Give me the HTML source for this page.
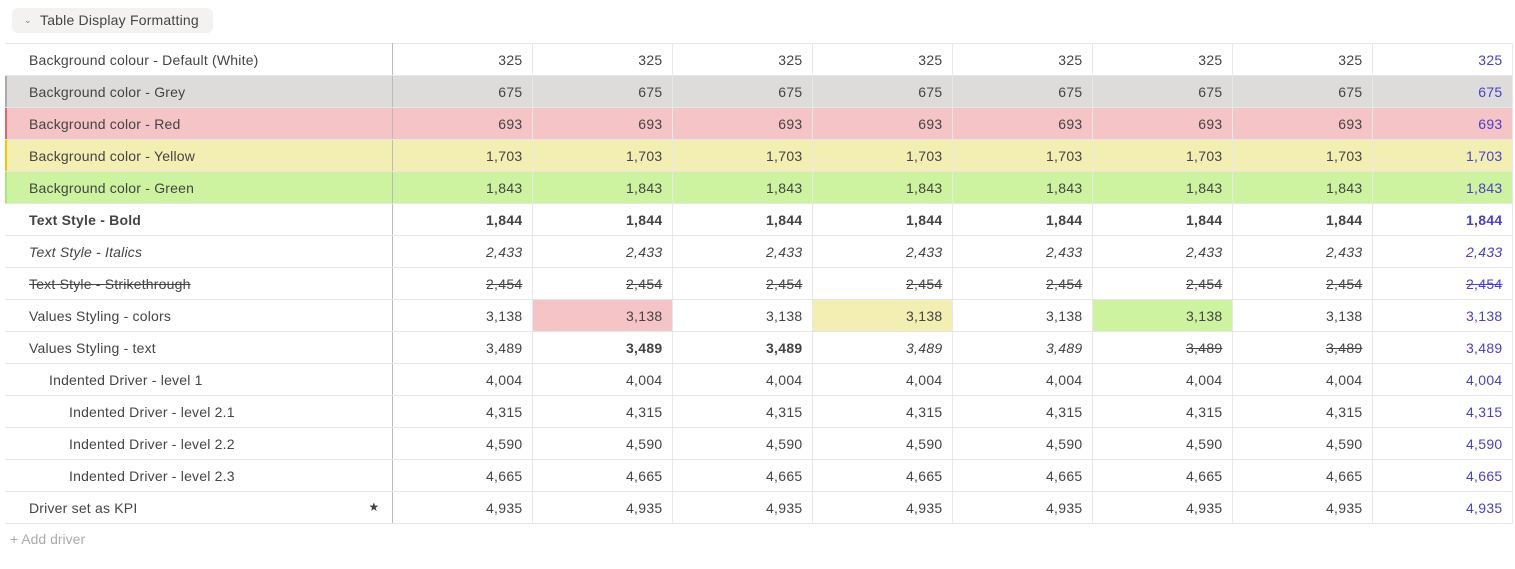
<!DOCTYPE html>
<html><head><meta charset="utf-8"><style>
body{margin:0;width:1515px;height:569px;background:#fff;font-family:"Liberation Sans",sans-serif;color:#444;font-size:14px;position:relative;overflow:hidden}
.btn{position:absolute;left:12px;top:8px;width:201px;height:25px;background:#f3f2f1;border-radius:6px;font-size:14px;line-height:25px;color:#444}
.btn span.c{position:absolute;left:12px;top:0;font-size:9px;color:#777}
.btn span.t{position:absolute;left:28px;letter-spacing:0.2px}
table{position:absolute;left:5px;top:43px;border-collapse:collapse;table-layout:fixed;width:1507px}
td{height:32px;padding:0 9px 0 0;border-top:1px solid #e6e6e6;border-bottom:1px solid #e6e6e6;border-right:1px solid #e8e8e8;text-align:right;white-space:nowrap;font-size:14px;box-sizing:border-box;letter-spacing:0.3px}
td.l{text-align:left;padding-left:24px;border-right:1px solid #bbb;position:relative;letter-spacing:0.2px}
td.last{color:#4a40c0;border-left:1px solid #bbb}
tr.g td{background:#dddcdb}tr.r td{background:#f5c4c7}tr.y td{background:#f3eeb2}tr.gr td{background:#cdf3a1}
tr.g td.l{box-shadow:inset 2px 0 #aaa}tr.r td.l{box-shadow:inset 2px 0 #e5636b}tr.y td.l{box-shadow:inset 2px 0 #f0c400}tr.gr td.l{box-shadow:inset 2px 0 #a8e87a}
tr.b td{font-weight:bold}tr.i td{font-style:italic}tr.s td{text-decoration:line-through}
.b{font-weight:bold}.i{font-style:italic}.s{text-decoration:line-through}
.cr{background:#f5c4c7}.cy{background:#f3eeb2}.cg{background:#cdf3a1}
.add{position:absolute;left:10px;top:531px;color:#aaa;font-size:14px}
</style></head><body>
<div class="btn"><span class="c">&#8964;</span><span class="t">Table Display Formatting</span></div>
<table>
<colgroup><col style="width:387px"><col style="width:140px"><col style="width:140px"><col style="width:140px"><col style="width:140px"><col style="width:140px"><col style="width:140px"><col style="width:140px"><col style="width:140px"></colgroup>
<tr><td class="l">Background colour - Default (White)</td><td>325</td><td>325</td><td>325</td><td>325</td><td>325</td><td>325</td><td>325</td><td class="last">325</td></tr>
<tr class="g"><td class="l">Background color - Grey</td><td>675</td><td>675</td><td>675</td><td>675</td><td>675</td><td>675</td><td>675</td><td class="last">675</td></tr>
<tr class="r"><td class="l">Background color - Red</td><td>693</td><td>693</td><td>693</td><td>693</td><td>693</td><td>693</td><td>693</td><td class="last">693</td></tr>
<tr class="y"><td class="l">Background color - Yellow</td><td>1,703</td><td>1,703</td><td>1,703</td><td>1,703</td><td>1,703</td><td>1,703</td><td>1,703</td><td class="last">1,703</td></tr>
<tr class="gr"><td class="l">Background color - Green</td><td>1,843</td><td>1,843</td><td>1,843</td><td>1,843</td><td>1,843</td><td>1,843</td><td>1,843</td><td class="last">1,843</td></tr>
<tr class="b"><td class="l">Text Style - Bold</td><td>1,844</td><td>1,844</td><td>1,844</td><td>1,844</td><td>1,844</td><td>1,844</td><td>1,844</td><td class="last">1,844</td></tr>
<tr class="i"><td class="l">Text Style - Italics</td><td>2,433</td><td>2,433</td><td>2,433</td><td>2,433</td><td>2,433</td><td>2,433</td><td>2,433</td><td class="last">2,433</td></tr>
<tr class="s"><td class="l">Text Style - Strikethrough</td><td>2,454</td><td>2,454</td><td>2,454</td><td>2,454</td><td>2,454</td><td>2,454</td><td>2,454</td><td class="last">2,454</td></tr>
<tr><td class="l">Values Styling - colors</td><td>3,138</td><td class="cr">3,138</td><td>3,138</td><td class="cy">3,138</td><td>3,138</td><td class="cg">3,138</td><td>3,138</td><td class="last">3,138</td></tr>
<tr><td class="l">Values Styling - text</td><td>3,489</td><td class="b">3,489</td><td class="b">3,489</td><td class="i">3,489</td><td class="i">3,489</td><td class="s">3,489</td><td class="s">3,489</td><td class="last">3,489</td></tr>
<tr><td class="l" style="padding-left:44px">Indented Driver - level 1</td><td>4,004</td><td>4,004</td><td>4,004</td><td>4,004</td><td>4,004</td><td>4,004</td><td>4,004</td><td class="last">4,004</td></tr>
<tr><td class="l" style="padding-left:64px">Indented Driver - level 2.1</td><td>4,315</td><td>4,315</td><td>4,315</td><td>4,315</td><td>4,315</td><td>4,315</td><td>4,315</td><td class="last">4,315</td></tr>
<tr><td class="l" style="padding-left:64px">Indented Driver - level 2.2</td><td>4,590</td><td>4,590</td><td>4,590</td><td>4,590</td><td>4,590</td><td>4,590</td><td>4,590</td><td class="last">4,590</td></tr>
<tr><td class="l" style="padding-left:64px">Indented Driver - level 2.3</td><td>4,665</td><td>4,665</td><td>4,665</td><td>4,665</td><td>4,665</td><td>4,665</td><td>4,665</td><td class="last">4,665</td></tr>
<tr><td class="l">Driver set as KPI<span style="position:absolute;right:12px;font-size:12px">&#9733;</span></td><td>4,935</td><td>4,935</td><td>4,935</td><td>4,935</td><td>4,935</td><td>4,935</td><td>4,935</td><td class="last">4,935</td></tr>
</table>
<div class="add">+ Add driver</div>
</body></html>
